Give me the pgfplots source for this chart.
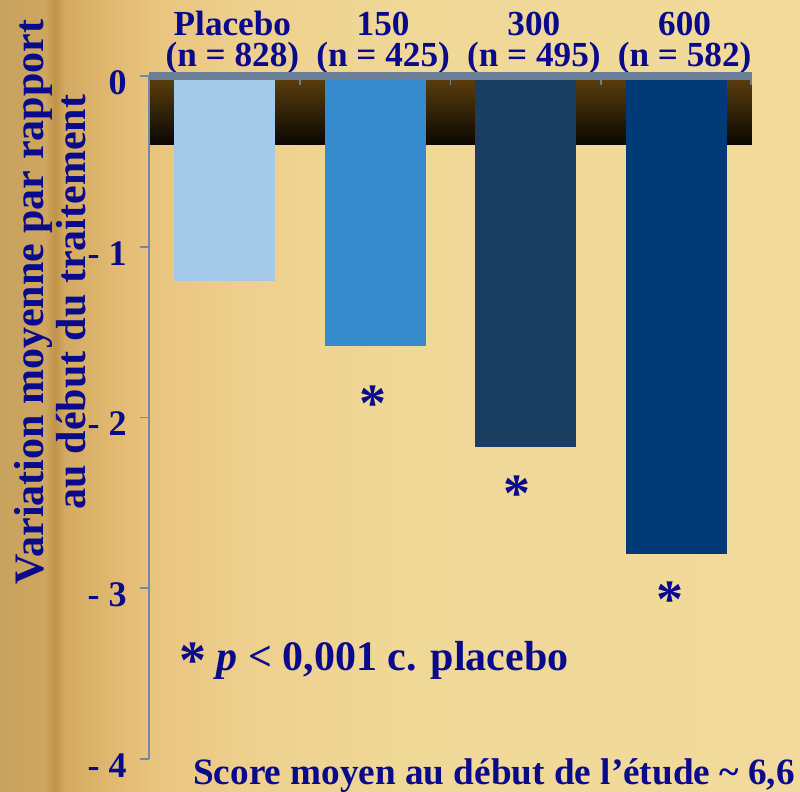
\documentclass[border=0pt]{standalone}
\usepackage{pgfplots}
\pgfplotsset{compat=1.18}
\usepackage{fontspec}
\setmainfont{Liberation Serif}

\definecolor{ink}{RGB}{10,10,140}
\definecolor{barA}{RGB}{164,201,233}
\definecolor{barB}{RGB}{53,139,203}
\definecolor{barC}{RGB}{26,62,95}
\definecolor{barD}{RGB}{0,59,120}
\definecolor{topline}{RGB}{107,128,152}
\definecolor{yline}{RGB}{113,137,166}
\definecolor{bandtop}{RGB}{94,64,14}
\definecolor{bandbot}{RGB}{11,7,2}
\definecolor{bg0}{RGB}{198,163,94}
\definecolor{bg1}{RGB}{207,166,96}
\definecolor{bg2}{RGB}{192,149,74}
\definecolor{bg3}{RGB}{212,170,98}
\definecolor{bg4}{RGB}{224,184,112}
\definecolor{bg5}{RGB}{233,196,126}
\definecolor{bg6}{RGB}{238,208,142}
\definecolor{bg7}{RGB}{240,216,151}
\definecolor{bg8}{RGB}{241,218,155}

\begin{document}
\begin{tikzpicture}[x=1pt,y=1pt]
% parchment background, darker towards the left edge
\fill[left color=bg0,right color=bg1] (0,0) rectangle (22.5,-396);
\fill[left color=bg1,right color=bg2] (22.5,0) rectangle (27.5,-396);
\fill[left color=bg2,right color=bg3] (27.5,0) rectangle (32.5,-396);
\fill[left color=bg3,right color=bg4] (32.5,0) rectangle (55,-396);
\fill[left color=bg4,right color=bg5] (55,0) rectangle (75,-396);
\fill[left color=bg5,right color=bg6] (75,0) rectangle (125,-396);
\fill[left color=bg6,right color=bg7] (125,0) rectangle (200,-396);
\fill[left color=bg7,right color=bg8] (200,0) rectangle (400,-396);

\begin{axis}[
  at={(74.5pt,-38pt)}, anchor=north west,
  scale only axis, width=301.5pt, height=341.5pt,
  xmin=-0.5, xmax=3.5, ymin=-4, ymax=0,
  axis line style={draw=none},
  tick style={draw=none}, major tick length=0pt,
  xtick={0,1,2,3},
  xticklabels={{Placebo\\(n = 828)},{150\\(n = 425)},{300\\(n = 495)},{600\\(n = 582)}},
  xticklabel pos=upper,
  xticklabel style={align=center, anchor=south, inner sep=0pt, yshift=0.6pt, xshift=4pt,
    font=\fontsize{17.6}{15.5}\selectfont\bfseries, text=ink},
  ytick={-4,-3,-2,-1,0},
  yticklabels={{- 4},{- 3},{- 2},{- 1},0},
  yticklabel style={anchor=base east, inner sep=0pt, xshift=-11pt, yshift=-9.25pt,
    font=\fontsize{18}{18}\selectfont\bfseries, text=ink},
  clip=false,
]
% dark band behind the bars
\fill[top color=bandtop, bottom color=bandbot] (axis cs:-0.5,0) rectangle (axis cs:3.5,-0.40);

\addplot[ybar, bar width=50.5pt, bar shift=0pt, fill=barA, draw=none] coordinates {(0,-1.20)};
\addplot[ybar, bar width=50.5pt, bar shift=0pt, fill=barB, draw=none] coordinates {(1,-1.58)};
\addplot[ybar, bar width=50.5pt, bar shift=0pt, fill=barC, draw=none] coordinates {(2,-2.17)};
\addplot[ybar, bar width=50.5pt, bar shift=0pt, fill=barD, draw=none] coordinates {(3,-2.80)};

% axis lines and ticks
\draw[yline, line width=0.8pt] (axis cs:-0.5,0) -- (axis cs:-0.5,-4);
\draw[yline, line width=0.8pt] (axis cs:-0.5,0) -- ++(-4.5pt,0pt);
\draw[yline, line width=0.8pt] (axis cs:-0.5,-1) -- ++(-4.5pt,0pt);
\draw[yline, line width=0.8pt] (axis cs:-0.5,-2) -- ++(-4.5pt,0pt);
\draw[yline, line width=0.8pt] (axis cs:-0.5,-3) -- ++(-4.5pt,0pt);
\draw[yline, line width=0.8pt] (axis cs:-0.5,-4) -- ++(-4.5pt,0pt);
\draw[topline, line width=4pt] (axis cs:-0.5,0) -- (axis cs:3.5,0);
\draw[topline, line width=0.8pt] ([yshift=-2pt]axis cs:0.5,0) -- ++(0pt,-2.5pt);
\draw[topline, line width=0.8pt] ([yshift=-2pt]axis cs:1.5,0) -- ++(0pt,-2.5pt);
\draw[topline, line width=0.8pt] ([yshift=-2pt]axis cs:2.5,0) -- ++(0pt,-2.5pt);
\draw[topline, line width=0.8pt] ([yshift=-2pt,xshift=-0.4pt]axis cs:3.5,0) -- ++(0pt,-2.5pt);

% significance markers
\node[anchor=base, inner sep=0pt, text=ink, font=\fontsize{27}{27}\selectfont\bfseries] at (axis cs:0.986,-2.024) {*};
\node[anchor=base, inner sep=0pt, text=ink, font=\fontsize{27}{27}\selectfont\bfseries] at (axis cs:1.941,-2.551) {*};
\node[anchor=base, inner sep=0pt, text=ink, font=\fontsize{27}{27}\selectfont\bfseries] at (axis cs:2.959,-3.172) {*};
\end{axis}

% y axis title
\node[rotate=90, anchor=base, inner sep=0pt, text=ink, font=\fontsize{21}{21}\selectfont\bfseries] at (21.5,-151) {Variation moyenne par rapport};
\node[rotate=90, anchor=base, inner sep=0pt, text=ink, font=\fontsize{21}{21}\selectfont\bfseries] at (42.5,-151) {au début du traitement};

% footnotes
\node[anchor=base, inner sep=0pt, text=ink, font=\fontsize{21}{21}\selectfont\bfseries] at (187,-335.5)
  {{\fontsize{27}{27}\selectfont\raisebox{-4pt}{*}} \textit{p} < 0,001 c. placebo};
\node[anchor=base, inner sep=0pt, text=ink, font=\fontsize{18.6}{18.6}\selectfont\bfseries] at (247,-392)
  {Score moyen au début de l’étude \textasciitilde{} 6,6};

\pgfresetboundingbox
\useasboundingbox (0,0) rectangle (400,-396);
\end{tikzpicture}
\end{document}
